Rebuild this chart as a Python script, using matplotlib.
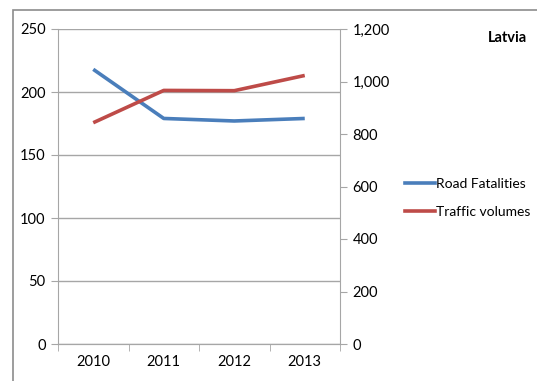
import matplotlib
matplotlib.use("Agg")
import matplotlib.pyplot as plt
from matplotlib.lines import Line2D
from matplotlib.patches import Rectangle

years = ["2010", "2011", "2012", "2013"]
road_fatalities = [218, 179, 177, 179]
traffic_volumes = [843, 966, 965, 1023]

left_ticks = [0, 50, 100, 150, 200, 250]
right_ticks = [0, 200, 400, 600, 800, 1000, 1200]

plt.rcParams["font.family"] = ["Lato", "DejaVu Sans"]
plt.rcParams["font.size"] = 10.5

W, H = 537, 381
fig = plt.figure(figsize=(W / 100, H / 100), dpi=100)

# outer chart frame
fig.patches.append(Rectangle((13 / W, -0.01), 1.0, (H - 10) / H + 0.01,
                             transform=fig.transFigure, fill=False,
                             edgecolor="#8c8c8c", linewidth=1.2))

ax = fig.add_axes([58 / W, (H - 344) / H, (340 - 58) / W, (344 - 29) / H])
ax2 = ax.twinx()

x = range(len(years))
ax.plot(x, road_fatalities, color="#4a7ebb", linewidth=2.6, solid_capstyle="butt")
ax2.plot(x, traffic_volumes, color="#be4b48", linewidth=2.6, solid_capstyle="butt")

ax.set_xlim(-0.5, len(years) - 0.5)
ax.set_ylim(0, 250)
ax2.set_ylim(0, 1200)
ax.set_yticks(left_ticks)
ax2.set_yticks(right_ticks)
ax2.set_yticklabels([f"{v:,}" for v in right_ticks])

ax.set_xticks(list(x))
ax.set_xticklabels(years)
ax.set_xticks([i - 0.5 for i in range(len(years) + 1)], minor=True)
ax.tick_params(axis="x", which="major", length=0, pad=8)
ax.tick_params(axis="x", which="minor", length=5, color="#a6a6a6", direction="out")
ax.tick_params(axis="y", length=5, color="#a6a6a6", pad=4)
ax2.tick_params(axis="y", length=5, color="#a6a6a6", pad=4)

ax.grid(axis="y", color="#a6a6a6", linewidth=1)
ax.set_axisbelow(True)
for a in (ax, ax2):
    a.spines["top"].set_visible(False)
    for side in ("left", "right", "bottom"):
        a.spines[side].set_color("#a6a6a6")
ax.spines["right"].set_visible(False)
ax2.spines["left"].set_visible(False)

handles = [Line2D([], [], color="#4a7ebb", linewidth=2.6),
           Line2D([], [], color="#be4b48", linewidth=2.6)]
fig.legend(handles, ["Road Fatalities", "Traffic volumes"],
           loc="center left", bbox_to_anchor=(392 / W, 1 - 198 / H),
           frameon=False, handlelength=2.2, handletextpad=0.1,
           labelspacing=1.2, fontsize=10)

fig.text(527 / W, 1 - 38 / H, "Latvia", ha="right", va="center",
         fontsize=10.5, fontweight="bold")

fig.savefig("out.png", dpi=100)
